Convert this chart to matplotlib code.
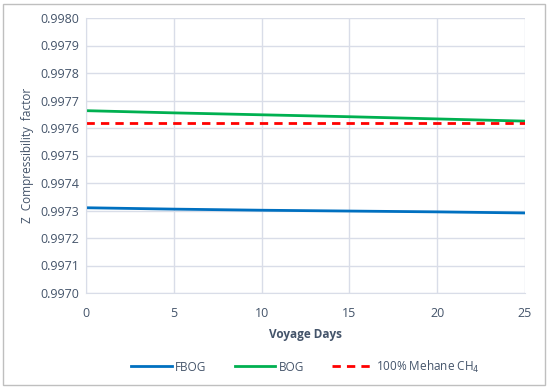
import matplotlib.pyplot as plt
import matplotlib.patches as patches

days = [0, 5, 10, 15, 20, 25]
fbog = [0.99731, 0.997305, 0.997301, 0.997298, 0.997295, 0.997291]
bog = [0.997663, 0.997655, 0.997648, 0.997641, 0.997633, 0.997625]
methane = [0.997617, 0.997617, 0.997617, 0.997617, 0.997617, 0.997617]

yticks = [0.9970 + i * 0.0001 for i in range(11)]

plt.rcParams['font.family'] = ['Open Sans', 'DejaVu Sans']
txt = '#44546a'

fig = plt.figure(figsize=(5.5, 3.88), dpi=100)
ax = fig.add_axes([86 / 550, 1 - 293 / 388, (525 - 86) / 550, (293 - 18) / 388])

ax.plot(days, fbog, color='#0070c0', lw=2, label='FBOG')
ax.plot(days, bog, color='#00b050', lw=2, label='BOG')
ax.plot(days, methane, color='#ff0000', lw=2, ls=(0, (3, 2.2)), label='100% Mehane CH$_4$')

ax.set_xlim(0, 25)
ax.set_ylim(0.9970, 0.9980)
ax.set_xticks([0, 5, 10, 15, 20, 25])
ax.set_yticks(yticks)
ax.set_yticklabels([f'{v:.4f}' for v in yticks])
ax.tick_params(length=0, labelsize=9, colors=txt, pad=5)
ax.tick_params(axis='x', pad=10)
ax.grid(color='#d9dde8', lw=1)
for s in ['top', 'right']:
    ax.spines[s].set_visible(False)
for s in ['left', 'bottom']:
    ax.spines[s].set_color('#d9dde8')

ax.set_xlabel('Voyage Days', fontsize=8.5, fontweight='bold', color=txt, labelpad=6)
ax.set_ylabel('Z  Compressibility  factor', fontsize=8.5, color=txt, labelpad=4)

leg = ax.legend(loc='upper center', bbox_to_anchor=(0.5, -0.2), ncol=3, frameon=False,
                fontsize=8.5, handlelength=3.4, columnspacing=2.4, handletextpad=0.3)
for t in leg.get_texts():
    t.set_color(txt)

fig.patches.append(patches.Rectangle((3 / 550, 3 / 388), 542 / 550, 381 / 388,
                                     transform=fig.transFigure, fill=False,
                                     edgecolor='#bfbfbf', lw=1))

fig.savefig('out.png', dpi=100)
